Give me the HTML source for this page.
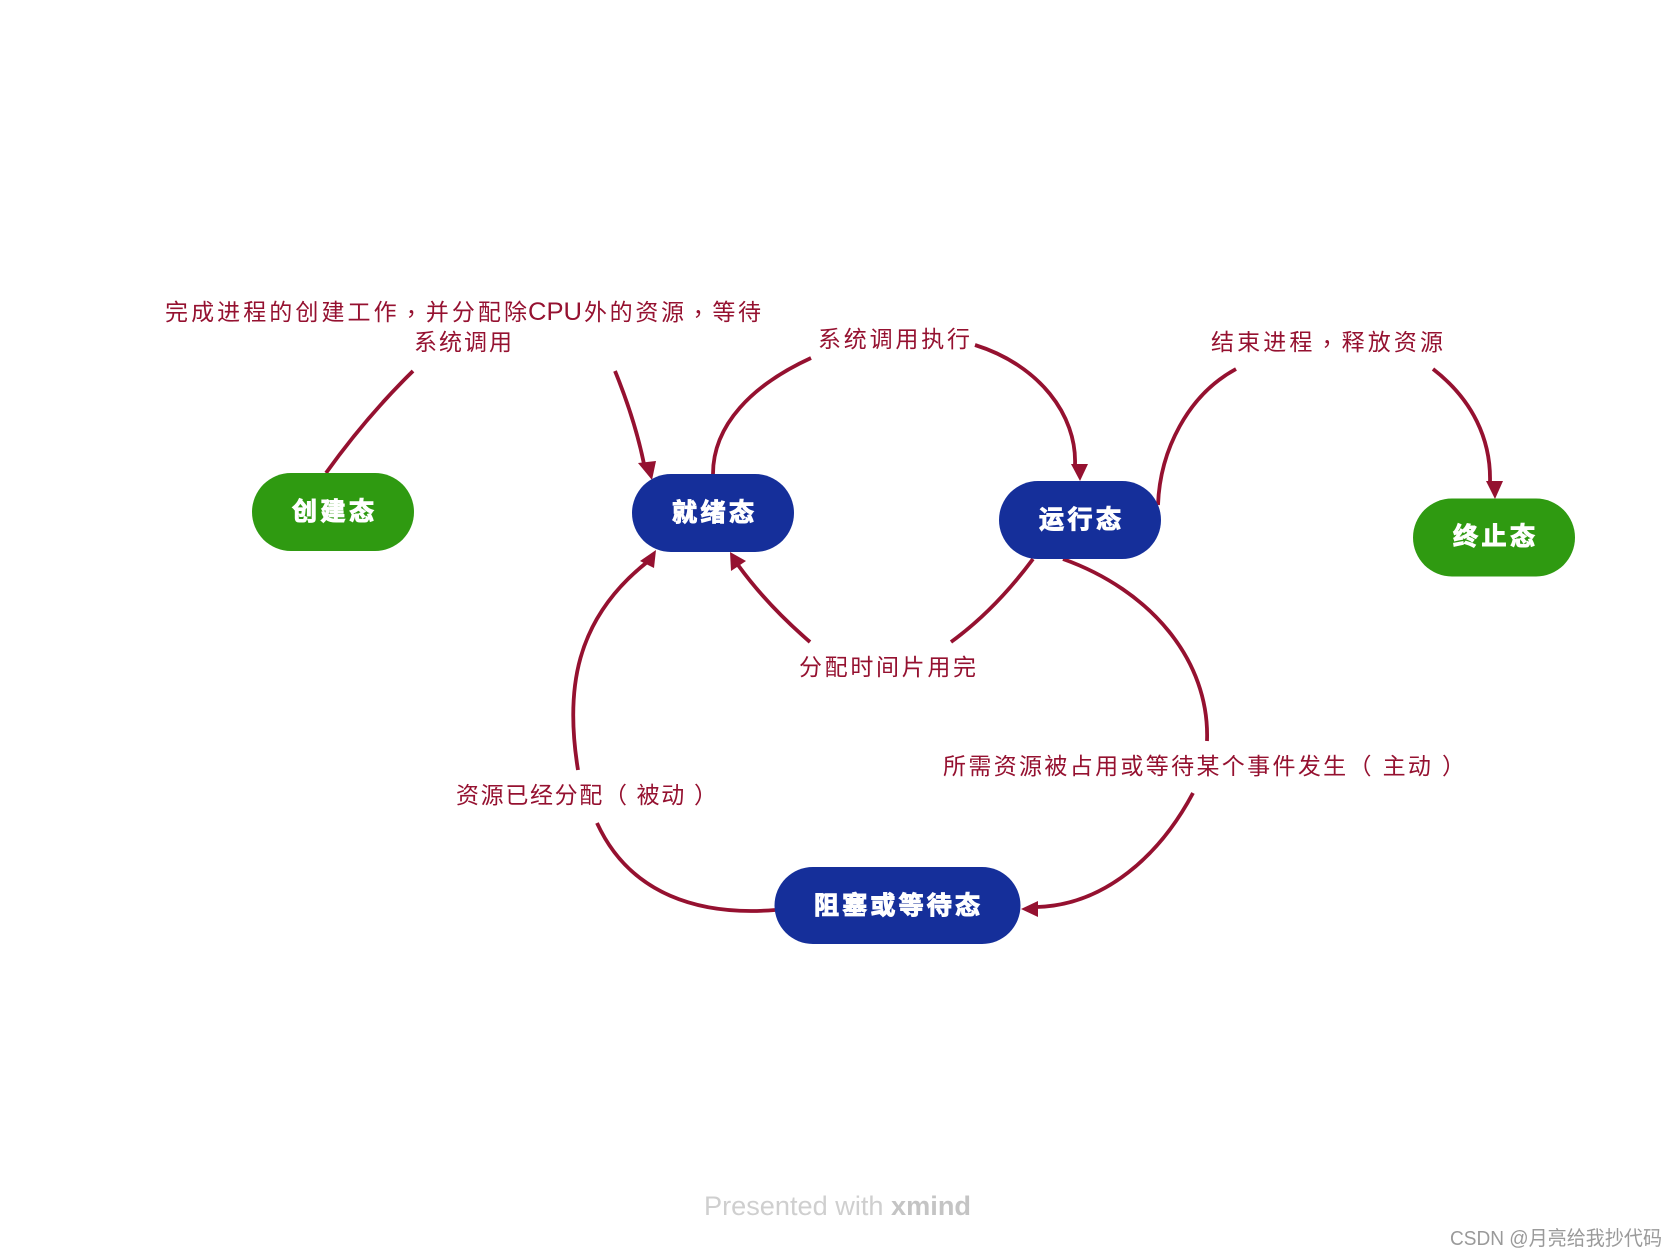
<!DOCTYPE html>
<html><head><meta charset="utf-8">
<style>
html,body{margin:0;padding:0;background:#fff;width:1676px;height:1258px;overflow:hidden}
svg{display:block}
.l{font-family:"Liberation Sans","Noto Sans CJK SC",sans-serif;font-size:23px;fill:#951130;dominant-baseline:central}
.t{font-family:"Noto Sans CJK TC",sans-serif}
.n{font-family:"Liberation Sans","Noto Sans CJK SC",sans-serif;font-size:25px;font-weight:700;fill:#fff;stroke:#fff;stroke-width:1px;dominant-baseline:central}
path.c{fill:none;stroke:#951130;stroke-width:3.8}
polygon{fill:#951130}
</style></head><body>
<svg width="1676" height="1258" viewBox="0 0 1676 1258" xmlns="http://www.w3.org/2000/svg">
<path class="c" d="M326 473 Q366 417 413 371"/>
<path class="c" d="M615 371 Q635 420 644 464"/>
<polygon points="652,480 638,463 656,461"/>
<path class="c" d="M713 474 C713 425 752 385 811 358"/>
<path class="c" d="M975 345 C1039 365 1077 415 1075 465"/>
<polygon points="1080,481 1071,464 1088,464"/>
<path class="c" d="M1158 505 C1160 450 1188 395 1236 369"/>
<path class="c" d="M1433 369 C1473 400 1491 440 1490 482"/>
<polygon points="1495,499 1486,481 1503,481"/>
<path class="c" d="M1033 559 Q995 610 951 642"/>
<path class="c" d="M810 642 Q767 605 738 565"/>
<polygon points="730,552 731,571 746,561"/>
<path class="c" d="M1063 559 C1150 590 1210 660 1207 741"/>
<path class="c" d="M1193 793 C1160 855 1105 905 1037 907"/>
<polygon points="1021,909 1038,901 1038,917"/>
<path class="c" d="M775 910 C700 916 630 895 597 823"/>
<path class="c" d="M578 770 C565 690 575 620 646 563"/>
<polygon points="656,550 640,561 654,568"/>

<rect x="252" y="473" width="162" height="78" rx="39" fill="#2F9A11"/>
<rect x="632" y="474" width="162" height="78" rx="39" fill="#152F9A"/>
<rect x="999" y="481" width="162" height="78" rx="39" fill="#152F9A"/>
<rect x="1413" y="498.500" width="162" height="78" rx="39" fill="#2F9A11"/>
<rect x="774.500" y="867" width="246" height="77" rx="38.5" fill="#152F9A"/>

<text class="n" x="292" y="512" textLength="82" lengthAdjust="spacing">创建态</text>
<text class="n" x="672" y="513" textLength="82" lengthAdjust="spacing">就绪态</text>
<text class="n" x="1039" y="520" textLength="82" lengthAdjust="spacing">运行态</text>
<text class="n" x="1453" y="537" textLength="82" lengthAdjust="spacing">终止态</text>
<text class="n" x="814" y="906" textLength="166" lengthAdjust="spacing">阻塞或等待态</text>

<text class="l" x="165" y="312" textLength="362" lengthAdjust="spacing">完成进程的创建工作<tspan class="t">，</tspan>并分配除</text>
<text class="l" x="528" y="312" textLength="54" lengthAdjust="spacingAndGlyphs" style="font-size:25px">CPU</text>
<text class="l" x="584" y="312" textLength="177" lengthAdjust="spacing">外的资源<tspan class="t">，</tspan>等待</text>
<text class="l" x="414" y="342" textLength="98" lengthAdjust="spacing">系统调用</text>
<text class="l" x="818" y="339" textLength="152" lengthAdjust="spacing">系统调用执行</text>
<text class="l" x="1211" y="342" textLength="232" lengthAdjust="spacing"><tspan>结束进程</tspan><tspan class="t">，</tspan><tspan>释放资源</tspan></text>
<text class="l" x="799" y="667" textLength="177" lengthAdjust="spacing">分配时间片用完</text>
<text class="l" x="943" y="766" textLength="522" lengthAdjust="spacing">所需资源被占用或等待某个事件发生（ 主动 ）</text>
<text class="l" x="456" y="795" textLength="261" lengthAdjust="spacing">资源已经分配（ 被动 ）</text>

<text x="704" y="1206" font-family="Liberation Sans,sans-serif" font-size="27" fill="#cfcfcf" dominant-baseline="central" textLength="267" lengthAdjust="spacingAndGlyphs">Presented with <tspan font-weight="700" fill="#c4c4c4">xmind</tspan></text>
<text x="1450" y="1239" font-family="Liberation Sans,'Noto Sans CJK SC',sans-serif" font-size="20" fill="#9a9a9a" dominant-baseline="central" textLength="212" lengthAdjust="spacingAndGlyphs">CSDN @月亮给我抄代码</text>
</svg>
</body></html>
